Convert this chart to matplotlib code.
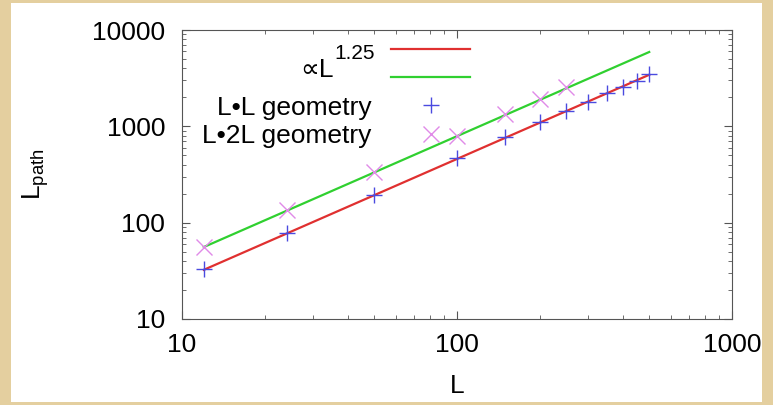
import matplotlib
matplotlib.use("Agg")
import matplotlib.pyplot as plt
import numpy as np
from matplotlib.lines import Line2D
from matplotlib.patches import Rectangle

# data
sizes = [12, 24, 50, 100, 150, 200, 250, 300, 350, 400, 450, 500]
path_square = [33, 79, 192, 468, 770, 1100, 1440, 1790, 2200, 2550, 2980, 3480]
sizes_rect = [12, 24, 50, 100, 150, 200, 250]
path_rect = [56, 136, 336, 790, 1330, 1900, 2560]
exponent = 1.25
prefactor_square = 1.45
prefactor_rect = 2.5

plt.rcParams["font.family"] = ["Liberation Sans", "DejaVu Sans"]
plt.rcParams["font.size"] = 19

fig = plt.figure(figsize=(7.73, 4.05), dpi=100)
fig.patch.set_facecolor("#e4cf9f")
fig.patches.append(Rectangle((11 / 773, 3 / 405), 751 / 773, 399 / 405, transform=fig.transFigure,
                             facecolor="white", edgecolor="none", zorder=-10))

ax = fig.add_axes([182 / 773, 86 / 405, 550 / 773, 289 / 405])
ax.set_facecolor("white")

fit_x = np.array([sizes[0], sizes[-1]], dtype=float)
ax.plot(fit_x, prefactor_square * fit_x ** exponent, color="#e03030", lw=1.6)
ax.plot(fit_x, prefactor_rect * fit_x ** exponent, color="#30d030", lw=1.6)
ax.plot(sizes, path_square, ls="none", marker="+", ms=12, mew=1.0, color="#4a4ae0")
ax.plot(sizes_rect, path_rect, ls="none", marker="x", ms=11, mew=1.0, color="#e08ae8")

ax.set_xscale("log")
ax.set_yscale("log")
ax.set_xlim(10, 1000)
ax.set_ylim(10, 10000)
ax.set_xticks([10, 100, 1000], ["10", "100", "1000"])
ax.set_yticks([10, 100, 1000, 10000], ["10", "100", "1000", "10000"])
ax.tick_params(which="both", direction="in", top=True, right=True, color="#555555")
ax.tick_params(which="major", length=6)
ax.tick_params(axis="y", which="major", pad=12)
ax.tick_params(axis="x", which="major", pad=10)
ax.tick_params(which="minor", length=3)
for spine in ax.spines.values():
    spine.set_color("#555555")

ax.set_xlabel("L", labelpad=12)
ax.set_ylabel(r"L$_{\mathregular{path}}$", labelpad=30)

handles = [
    Line2D([], [], color="#e03030", lw=1.6),
    Line2D([], [], color="#30d030", lw=1.6),
    Line2D([], [], ls="none", marker="+", ms=12, mew=1.0, color="#4a4ae0"),
    Line2D([], [], ls="none", marker="x", ms=11, mew=1.0, color="#e08ae8"),
]
ax.legend(handles, [" ", " ", "L\u2022L geometry", "L\u20222L geometry"], markerfirst=False,
          loc="upper right", bbox_to_anchor=(0.524, 0.968), frameon=False, borderpad=0,
          borderaxespad=0, handlelength=3.0, handletextpad=0.75, labelspacing=0.16)

sup = ax.text(0.35, 0.885, "1.25", transform=ax.transAxes, ha="right", va="bottom", fontsize=15)
ax.annotate("\u221dL", xy=(0, 0), xycoords=sup, ha="right", va="top", xytext=(0, 4),
            textcoords="offset points")

fig.savefig("out.png", dpi=100, facecolor=fig.get_facecolor())
